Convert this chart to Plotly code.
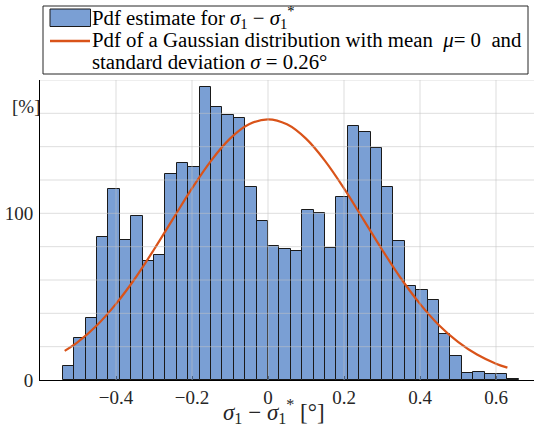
import plotly.graph_objects as go

# ---- data ----
bin_left = [-0.54, -0.51, -0.48, -0.45, -0.42, -0.39, -0.36, -0.33, -0.30, -0.27,
            -0.24, -0.21, -0.18, -0.15, -0.12, -0.09, -0.06, -0.03, 0.00, 0.03,
            0.06, 0.09, 0.12, 0.15, 0.18, 0.21, 0.24, 0.27, 0.30, 0.33,
            0.36, 0.39, 0.42, 0.45, 0.48, 0.51, 0.54, 0.57, 0.60, 0.63]
bin_height = [8.4, 25.5, 37.5, 85.7, 114.9, 84.3, 98.2, 71.3, 75.3, 123.9,
              130.3, 128.1, 175.7, 163.7, 158.8, 157.0, 115.9, 95.6, 80.5, 78.7,
              77.5, 102.2, 100.2, 79.3, 109.8, 152.2, 149.0, 139.2, 116.1, 83.7,
              56.2, 53.8, 48.2, 27.7, 14.3, 4.2, 4.6, 3.8, 3.8, 0.6]
bin_width = 0.03

curve_x = [-0.535, -0.50, -0.45, -0.40, -0.35, -0.30, -0.25, -0.20, -0.15, -0.10,
           -0.05, 0.00, 0.05, 0.10, 0.15, 0.20, 0.25, 0.30, 0.35, 0.40,
           0.45, 0.50, 0.55, 0.60, 0.63]
curve_y = [17.5, 22.9, 32.9, 45.7, 60.9, 78.3, 96.7, 115.0, 131.5, 144.8,
           153.4, 156.4, 153.4, 144.8, 131.5, 115.0, 96.7, 78.3, 60.9, 45.7,
           32.9, 22.9, 15.3, 9.8, 7.4]

x_ticks = [-0.4, -0.2, 0, 0.2, 0.4, 0.6]
x_ticklabels = ["−0.4", "−0.2", "0", "0.2", "0.4", "0.6"]
y_ticks = [0, 100]
y_ticklabels = ["0", "100"]
y_grid = [20, 40, 60, 80, 100, 120, 140, 160, 180]

X_RANGE = [-0.6, 0.7]
Y_RANGE = [0, 180]

BAR_COLOR = "rgb(122,159,212)"
LINE_COLOR = "#D95319"
TEXT_COLOR = "#262626"
FONT = "Liberation Serif, Times New Roman, serif"
GRID_COLOR = "rgba(195,195,195,0.55)"

centers = [l + bin_width / 2 for l in bin_left]

fig = go.Figure()
fig.add_trace(go.Bar(
    x=centers, y=bin_height, width=bin_width,
    marker=dict(color=BAR_COLOR, line=dict(color="#1a1a1a", width=1)),
    showlegend=False, name="Pdf estimate",
))
fig.add_trace(go.Scatter(
    x=curve_x, y=curve_y, mode="lines", line=dict(color=LINE_COLOR, width=2.2, shape="spline"),
    showlegend=False, name="Gaussian pdf",
))

shapes = []
# grid drawn above the bars, as in the reference
for v in x_ticks:
    shapes.append(dict(type="line", xref="x", yref="y", x0=v, x1=v, y0=Y_RANGE[0], y1=Y_RANGE[1],
                       line=dict(color=GRID_COLOR, width=1), layer="above"))
for v in y_grid:
    shapes.append(dict(type="line", xref="x", yref="y", x0=X_RANGE[0], x1=X_RANGE[1], y0=v, y1=v,
                       line=dict(color=GRID_COLOR, width=1), layer="above"))

# custom legend (paper coordinates)
def px(xp):
    return (xp - 40) / 494.0

def py(yp):
    return (380 - yp) / 300.0

shapes.append(dict(type="rect", xref="paper", yref="paper", x0=px(43), x1=px(528), y0=py(74), y1=py(6),
                   line=dict(color=TEXT_COLOR, width=1), fillcolor="white", layer="above"))
shapes.append(dict(type="rect", xref="paper", yref="paper", x0=px(50), x1=px(90.5), y0=py(26.5), y1=py(9),
                   line=dict(color="#1a1a1a", width=1), fillcolor=BAR_COLOR, layer="above"))
shapes.append(dict(type="line", xref="paper", yref="paper", x0=px(50), x1=px(90), y0=py(41), y1=py(41),
                   line=dict(color=LINE_COLOR, width=2.5), layer="above"))

LEG_SIZE = 20.8
annotations = [
    dict(text="Pdf estimate for <i>σ</i><sub>1</sub> − <i>σ</i><sub>1</sub><sup>*</sup>",
         x=px(90), y=py(18), xref="paper", yref="paper", xanchor="left", yanchor="middle",
         showarrow=False, font=dict(family=FONT, size=LEG_SIZE, color="black")),
    dict(text="Pdf of a Gaussian distribution with mean  <i>μ</i>= 0  and",
         x=px(90), y=py(40), xref="paper", yref="paper", xanchor="left", yanchor="middle",
         showarrow=False, font=dict(family=FONT, size=LEG_SIZE, color="black")),
    dict(text="standard deviation <i>σ</i> = 0.26°",
         x=px(90), y=py(61), xref="paper", yref="paper", xanchor="left", yanchor="middle",
         showarrow=False, font=dict(family=FONT, size=LEG_SIZE, color="black")),
    dict(text="[%]", x=px(25.5), y=py(106), xref="paper", yref="paper", xanchor="center", yanchor="middle",
         showarrow=False, font=dict(family=FONT, size=19, color=TEXT_COLOR)),
    dict(text="<i>σ</i><sub>1</sub> − <i>σ</i><sub>1</sub><sup>*</sup> [°]", x=px(274), y=py(411),
         xref="paper", yref="paper", xanchor="center", yanchor="middle",
         showarrow=False, font=dict(family=FONT, size=23, color=TEXT_COLOR)),
]

fig.update_layout(
    width=534, height=434,
    margin=dict(l=40, r=0, t=80, b=54, autoexpand=False),
    paper_bgcolor="white", plot_bgcolor="white",
    bargap=0,
    shapes=shapes, annotations=annotations,
    font=dict(family=FONT, size=17, color=TEXT_COLOR),
)
fig.update_xaxes(range=X_RANGE, tickvals=x_ticks, ticktext=x_ticklabels, showgrid=False, zeroline=False,
                 showline=True, linecolor="black", linewidth=1, ticks="inside", ticklen=4,
                 tickcolor="#1f3d66", layer="above traces", automargin=False,
                 tickfont=dict(family=FONT, size=19, color=TEXT_COLOR))
fig.update_yaxes(range=Y_RANGE, tickvals=y_ticks, ticktext=y_ticklabels, showgrid=False, zeroline=False,
                 showline=True, linecolor="black", linewidth=1, ticks="", layer="above traces",
                 automargin=False, ticklabelstandoff=2,
                 tickfont=dict(family=FONT, size=19, color=TEXT_COLOR))

fig.write_html("out.html", config={"displayModeBar": False},
               post_script="document.body.style.margin='0';document.body.style.overflow='hidden';")
